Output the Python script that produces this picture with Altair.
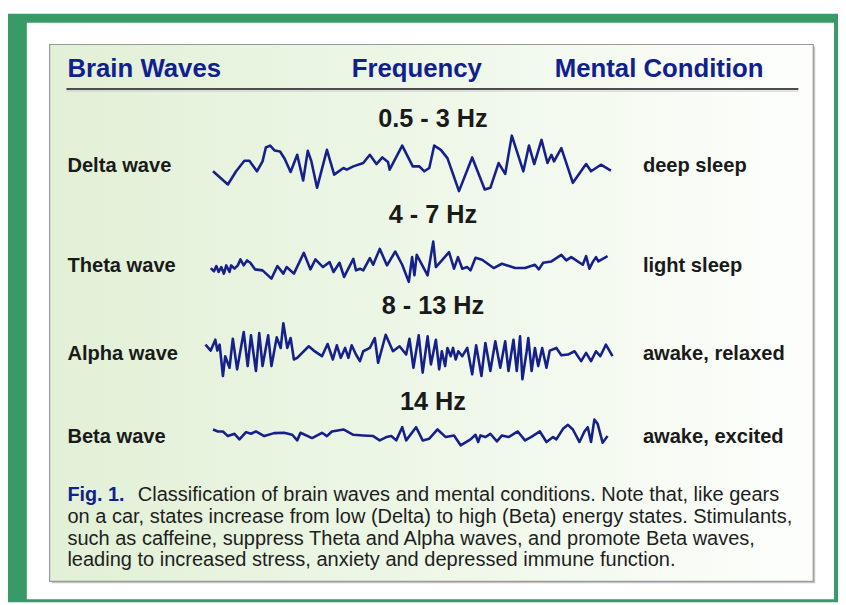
import altair as alt
import pandas as pd

W, H = 838, 597

HEADERS = ["Brain Waves", "Frequency", "Mental Condition"]
WAVES = ["Delta wave", "Theta wave", "Alpha wave", "Beta wave"]
FREQS = ["0.5 - 3 Hz", "4 - 7 Hz", "8 - 13 Hz", "14 Hz"]
CONDITIONS = ["deep sleep", "light sleep", "awake, relaxed", "awake, excited"]
FIG_LABEL = "Fig. 1."
CAPTION_LINES = [
    "Classification of brain waves and mental conditions. Note that, like gears",
    "on a car, states increase from low (Delta) to high (Beta) energy states. Stimulants,",
    "such as caffeine, suppress Theta and Alpha waves, and promote Beta waves,",
    "leading to increased stress, anxiety and depressed immune function.",
]

# wave traces: t = horizontal sample position, v = deflection (downwards)
delta_t = [45, 90, 115, 140, 155, 178, 195, 205, 218, 232, 248, 262, 280, 300, 318, 332, 343, 360, 390, 412,
           440, 450, 470, 500, 520, 540, 558, 575, 580, 618, 650, 670, 685, 700, 715, 735, 755, 790, 830, 868,
           885, 910, 930, 950, 985, 1002, 1018, 1040, 1058, 1070, 1078, 1100, 1135, 1175, 1190, 1220, 1250]
delta_v = [150, 190, 150, 118, 118, 150, 120, 78, 72, 87, 90, 112, 152, 100, 178, 88, 120, 200, 85, 160,
           140, 145, 135, 125, 100, 128, 108, 122, 145, 72, 135, 135, 150, 140, 72, 85, 110, 210, 108, 205,
           200, 125, 158, 42, 150, 72, 128, 55, 125, 100, 120, 80, 185, 128, 150, 130, 148]

theta_t = [38, 48, 55, 62, 70, 78, 85, 95, 100, 110, 120, 128, 138, 148, 158, 172, 195, 222, 240, 258,
           268, 290, 320, 340, 355, 378, 398, 410, 428, 442, 470, 478, 490, 500, 520, 530, 550, 572, 597, 618,
           638, 648, 655, 662, 695, 712, 720, 760, 775, 787, 800, 815, 825, 840, 860, 895, 920, 960, 990, 1020,
           1032, 1045, 1070, 1100, 1115, 1130, 1165, 1175, 1185, 1195, 1205, 1212, 1240]
theta_v = [128, 138, 122, 140, 125, 145, 120, 140, 120, 130, 120, 102, 120, 105, 112, 132, 135, 160, 122, 145,
           125, 145, 82, 132, 102, 125, 110, 140, 112, 155, 100, 135, 130, 135, 98, 118, 70, 120, 78, 118,
           170, 95, 150, 88, 150, 48, 125, 80, 130, 95, 130, 125, 135, 97, 103, 128, 115, 128, 128, 118,
           132, 112, 108, 88, 105, 95, 118, 92, 130, 110, 95, 108, 92]

alpha_t = [22, 38, 52, 58, 65, 75, 82, 95, 105, 118, 138, 150, 160, 175, 185, 195, 212, 222, 238, 250,
           258, 270, 280, 290, 300, 335, 350, 375, 392, 408, 420, 432, 445, 455, 465, 478, 490, 500, 520, 535,
           545, 568, 590, 610, 630, 640, 652, 668, 680, 695, 705, 720, 730, 738, 748, 755, 765, 772, 780, 788,
           800, 815, 830, 842, 858, 870, 885, 900, 915, 930, 940, 955, 965, 975, 982, 995, 1000, 1010, 1020, 1030,
           1042, 1055, 1065, 1085, 1100, 1120, 1140, 1160, 1175, 1190, 1205, 1218, 1235, 1255]
alpha_v = [90, 108, 75, 108, 90, 185, 125, 160, 72, 165, 52, 155, 62, 170, 55, 155, 62, 155, 68, 100,
           25, 100, 70, 135, 130, 95, 108, 125, 88, 135, 92, 130, 100, 130, 92, 120, 140, 110, 100, 70,
           145, 60, 110, 95, 120, 72, 160, 62, 175, 65, 150, 75, 165, 110, 155, 100, 125, 100, 135, 110,
           125, 100, 180, 92, 185, 85, 170, 80, 160, 80, 170, 75, 170, 65, 195, 110, 70, 170, 100, 155,
           100, 160, 108, 100, 122, 120, 110, 140, 115, 140, 110, 125, 90, 125]

beta_t = [45, 60, 75, 90, 110, 125, 145, 160, 175, 200, 230, 260, 285, 300, 310, 345, 375, 390, 405, 440,
          470, 500, 530, 550, 570, 585, 600, 618, 630, 660, 680, 700, 725, 750, 775, 795, 825, 840, 848, 855,
          870, 885, 905, 920, 940, 968, 990, 1008, 1035, 1055, 1075, 1085, 1105, 1120, 1135, 1155, 1170, 1180,
          1190, 1200, 1210, 1225, 1240]
beta_v = [62, 68, 68, 82, 75, 92, 70, 75, 68, 82, 73, 72, 78, 95, 72, 88, 72, 82, 68, 62,
          78, 80, 82, 95, 85, 82, 95, 55, 95, 55, 95, 90, 62, 85, 80, 110, 92, 78, 100, 80,
          85, 75, 98, 80, 85, 68, 95, 85, 68, 100, 85, 92, 60, 48, 62, 100, 68, 55,
          100, 32, 45, 102, 82]

NAVY = "#15208a"
HEAD_BLUE = "#10208f"
GREEN = "#389a67"
SANS = "Liberation Sans"

one = pd.DataFrame({"k": [0]})


def box(x, x2, y, y2, **kw):
    return alt.Chart(one).mark_rect(**kw).encode(
        x=alt.value(x), x2=alt.value(x2), y=alt.value(y), y2=alt.value(y2))


def label(s, x, y, size, weight="bold", color="#1a1a1a", align="left"):
    return alt.Chart(one).mark_text(
        text=s, font=SANS, fontSize=size, fontWeight=weight, color=color,
        align=align, baseline="middle").encode(x=alt.value(x), y=alt.value(y))


def wave(ts, vs, vmax, top, bottom):
    df = pd.DataFrame({"t": ts, "v": vs})
    return alt.Chart(df).mark_line(color=NAVY, strokeWidth=2.6, strokeJoin="round").encode(
        x=alt.X("t:Q", scale=alt.Scale(domain=[0, 1290], range=[192, 622], nice=False, zero=False), axis=None),
        y=alt.Y("v:Q", scale=alt.Scale(domain=[0, vmax], range=[top, bottom], nice=False, zero=False), axis=None),
    )


grad = alt.LinearGradient(
    gradient="linear",
    stops=[alt.GradientStop(color="#e2f0d6", offset=0),
           alt.GradientStop(color="#eef7e8", offset=0.5),
           alt.GradientStop(color="#fdfefc", offset=1)],
    x1=0, x2=1, y1=0, y2=0)

layers = [
    box(0, W, 3, H, color=GREEN),
    box(19, 834, 12, 594, color="#ffffff"),
    box(44, 815, 36, 578, color="#c4c4c4"),
    box(42, 813, 34, 576, fill=grad, stroke="#9a9a9a", strokeWidth=1.2),
    alt.Chart(one).mark_rule(color="#4d4d4d", strokeWidth=2).encode(
        x=alt.value(59), x2=alt.value(798), y=alt.value(79)),
    alt.Chart(one).mark_rule(color="#c8c8c8", strokeWidth=1).encode(
        x=alt.value(59), x2=alt.value(798), y=alt.value(81)),
]

head_x = [60, 347, 552]
for s, x in zip(HEADERS, head_x):
    layers.append(label(s, x, 59, 26, color=HEAD_BLUE))

row_y = [157, 258, 347, 430]
freq_y = [109, 206, 298, 395]
for s, y in zip(WAVES, row_y):
    layers.append(label(s, 60, y, 20.3))
for s, y in zip(CONDITIONS, row_y):
    layers.append(label(s, 641, y, 20.3))
for s, y in zip(FREQS, freq_y):
    layers.append(label(s, 429, y, 25.5, align="center"))

layers += [
    wave(delta_t, delta_v, 240, 112, 192),
    wave(theta_t, theta_v, 210, 217, 287),
    wave(alpha_t, alpha_v, 225, 307, 382),
    wave(beta_t, beta_v, 150, 402, 452),
]

cap_y = [489, 511, 533, 554]
layers.append(label(FIG_LABEL, 60, cap_y[0], 20, color=HEAD_BLUE))
for i, (s, y) in enumerate(zip(CAPTION_LINES, cap_y)):
    layers.append(label(s, 131 if i == 0 else 60, y, 20.2, weight="normal", color="#1e1e1e"))

chart = alt.layer(*layers).resolve_scale(y="independent").properties(
    width=W, height=H, padding=0, autosize=alt.AutoSizeParams(type="none"),
    background="#ffffff",
).configure_view(stroke=None)

chart.save("out.html", embed_options={"renderer": "svg", "actions": False})
